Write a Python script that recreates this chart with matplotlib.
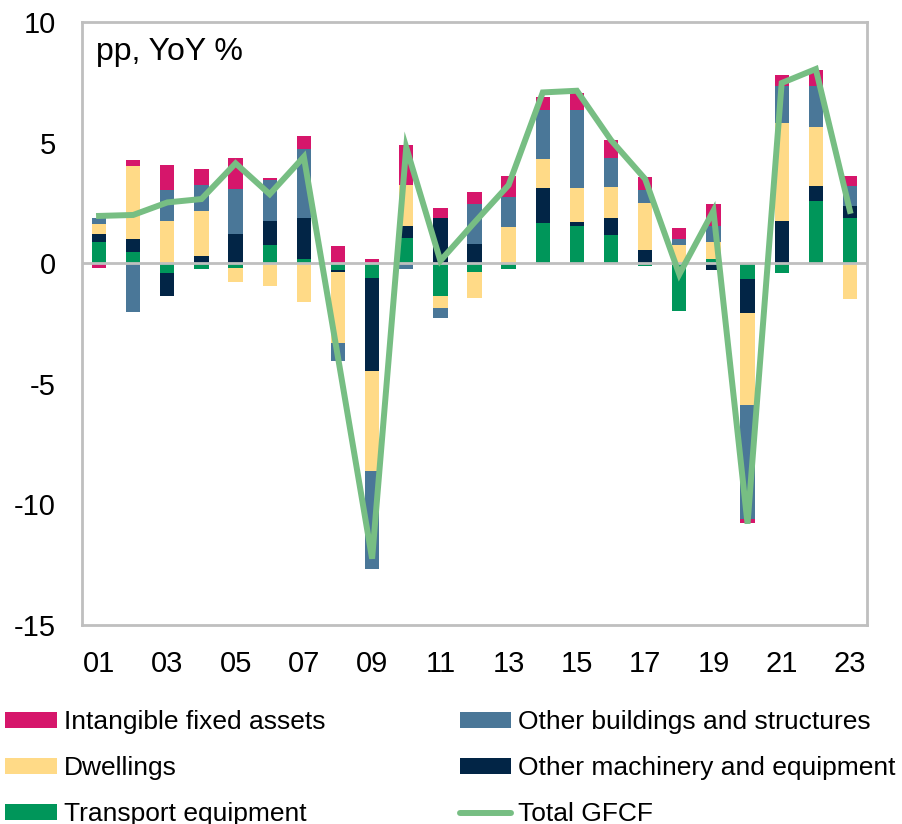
import numpy as np
import matplotlib
matplotlib.use('Agg')
import matplotlib.pyplot as plt
from matplotlib.lines import Line2D

plt.rcParams['font.family'] = ['Liberation Sans', 'DejaVu Sans']
plt.rcParams['axes.unicode_minus'] = False

years = np.arange(2001, 2024)

# contributions, pp
transport = [0.88, 0.47, -0.41, -0.22, -0.21, 0.75, 0.19, -0.28, -0.62, 1.06, -1.38, -0.35,
             -0.22, 1.65, 1.55, 1.16, -0.10, -1.98, 0.17, -0.64, -0.39, 2.56, 1.87]
machinery = [0.32, 0.53, -0.94, 0.30, 1.19, 1.01, 1.69, -0.08, -3.85, 0.48, 1.87, 0.80,
             0.0, 1.48, 0.17, 0.72, 0.54, 0.0, -0.30, -1.42, 1.74, 0.66, 0.50]
dwellings = [0.41, 3.04, 1.76, 1.85, -0.55, -0.94, -1.60, -2.96, -4.15, 1.69, -0.48, -1.11,
             1.49, 1.20, 1.38, 1.29, 1.95, 0.76, 0.71, -3.83, 4.07, 2.41, -1.47]
buildings = [0.28, -2.02, 1.26, 1.11, 1.87, 1.69, 2.85, -0.75, -4.05, -0.25, -0.43, 1.65,
             1.26, 2.02, 3.25, 1.19, 0.55, 0.26, 0.68, -4.70, 1.55, 1.70, 0.82]
intangible = [-0.19, 0.24, 1.07, 0.64, 1.29, 0.07, 0.54, 0.72, 0.19, 1.67, 0.41, 0.50,
              0.86, 0.53, 0.71, 0.73, 0.55, 0.44, 0.88, -0.17, 0.46, 0.68, 0.43]
total = [1.96, 2.0, 2.52, 2.66, 4.14, 2.86, 4.41, -3.9, -12.25, 4.8, 0.1, 1.69,
         3.24, 7.08, 7.15, 5.1, 3.49, -0.46, 2.17, -10.8, 7.47, 8.05, 2.17]

series = [('Transport equipment', transport, '#00965A'),
          ('Other machinery and equipment', machinery, '#022546'),
          ('Dwellings', dwellings, '#FFDA87'),
          ('Other buildings and structures', buildings, '#4A7798'),
          ('Intangible fixed assets', intangible, '#D6166B')]

fig = plt.figure(figsize=(9.02, 8.24), dpi=100)
ax = fig.add_axes([0.0909, 0.2415, 0.8703, 0.7318])

pos = np.zeros(len(years))
neg = np.zeros(len(years))
handles = {}
for name, vals, col in series:
    v = np.array(vals)
    bottom = np.where(v >= 0, pos, neg)
    h = ax.bar(years, v, width=0.42, bottom=bottom, color=col, linewidth=0, zorder=2, label=name)
    handles[name] = h
    pos = pos + np.where(v >= 0, v, 0)
    neg = neg + np.where(v < 0, v, 0)

ax.axhline(0, color='#BFBFBF', linewidth=2, zorder=2.5)
ax.plot(years, total, color='#77BE83', linewidth=4.3, zorder=3, solid_joinstyle='miter')

ax.set_xlim(2000.5, 2023.5)
ax.set_ylim(-15, 10)
ax.set_yticks([-15, -10, -5, 0, 5, 10])
ax.set_xticks(years[::2])
ax.set_xticklabels(['%02d' % (y % 100) for y in years[::2]])
ax.tick_params(axis='both', length=0, labelsize=21)
ax.tick_params(axis='y', pad=19)
ax.tick_params(axis='x', pad=18)
for s in ax.spines.values():
    s.set_color('#BFBFBF')
    s.set_linewidth(2)

ax.text(0.018, 0.975, 'pp, YoY %', transform=ax.transAxes, fontsize=23, va='top', ha='left')

line_handle = Line2D([], [], color='#77BE83', linewidth=4.3, solid_capstyle='round')
order = ['Intangible fixed assets', 'Dwellings', 'Transport equipment',
         'Other buildings and structures', 'Other machinery and equipment']
hs = [handles[n] for n in order] + [line_handle]
labels = order + ['Total GFCF']
fig.legend(hs, labels, loc='upper left', bbox_to_anchor=(0.006, 0.138), ncol=2,
           frameon=False, fontsize=19, handlelength=1.95, handleheight=0.53,
           handletextpad=0.27, columnspacing=5.08, labelspacing=0.83,
           borderpad=0, borderaxespad=0)

fig.savefig('out.png', dpi=100)
